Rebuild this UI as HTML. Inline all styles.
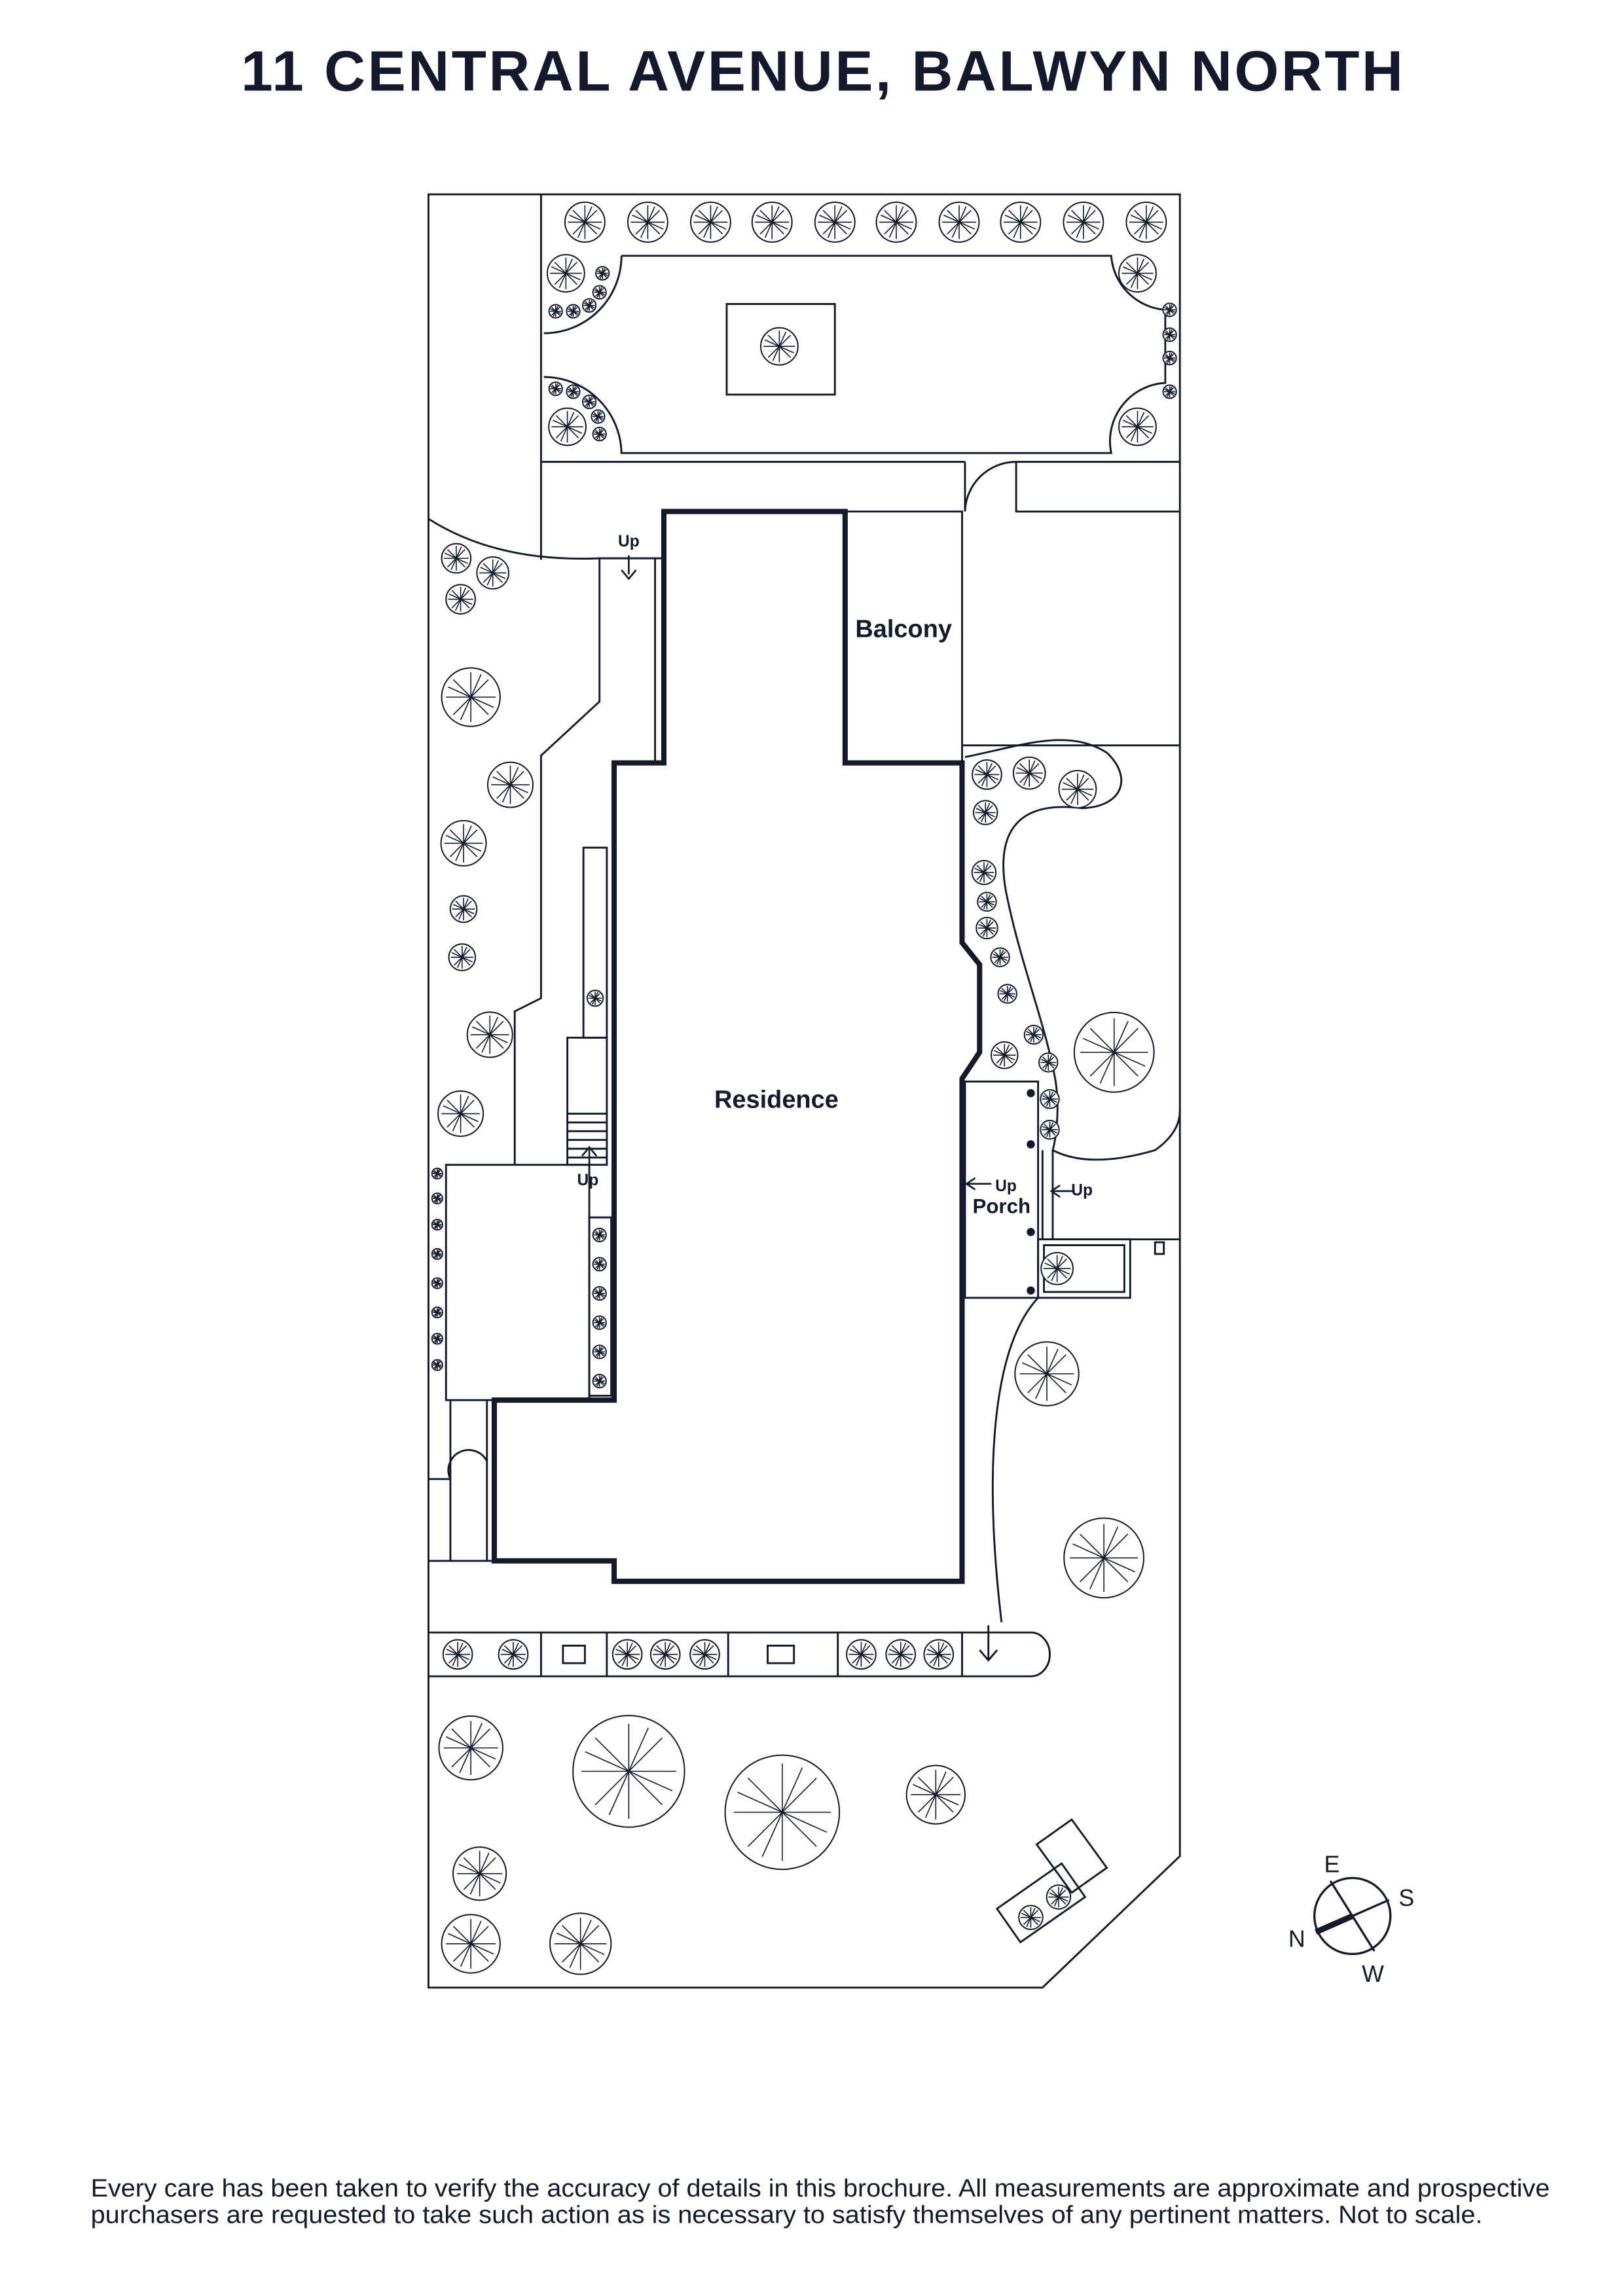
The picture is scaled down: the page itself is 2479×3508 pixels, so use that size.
<!DOCTYPE html>
<html><head><meta charset="utf-8"><style>
html,body{margin:0;padding:0;background:#fff;width:2479px;height:3508px;overflow:hidden}
svg{display:block}
text{font-family:"Liberation Sans",sans-serif;fill:#141a2b}
</style></head><body>
<svg width="2479" height="3508" viewBox="0 0 1110 1571" xmlns="http://www.w3.org/2000/svg">
<defs>
<symbol id="t" viewBox="-1.1 -1.1 2.2 2.2">
<circle r="1" fill="#fff" stroke="#141a2b" stroke-width="2" vector-effect="non-scaling-stroke"/>
<g stroke="#141a2b" stroke-width="1.6" vector-effect="non-scaling-stroke">
<line x1="0" y1="0" x2="0" y2="-0.85" vector-effect="non-scaling-stroke"/><line x1="0" y1="0" x2="0.6" y2="-0.6" vector-effect="non-scaling-stroke"/><line x1="0" y1="0" x2="0.85" y2="0" vector-effect="non-scaling-stroke"/>
<line x1="0" y1="0" x2="0.6" y2="0.6" vector-effect="non-scaling-stroke"/><line x1="0" y1="0" x2="0" y2="0.85" vector-effect="non-scaling-stroke"/><line x1="0" y1="0" x2="-0.6" y2="0.6" vector-effect="non-scaling-stroke"/>
<line x1="0" y1="0" x2="-0.85" y2="0" vector-effect="non-scaling-stroke"/><line x1="0" y1="0" x2="-0.6" y2="-0.6" vector-effect="non-scaling-stroke"/>
<line x1="0" y1="0" x2="0.35" y2="-0.78" vector-effect="non-scaling-stroke"/><line x1="0" y1="0" x2="-0.35" y2="0.78" vector-effect="non-scaling-stroke"/><line x1="0" y1="0" x2="0.78" y2="0.35" vector-effect="non-scaling-stroke"/><line x1="0" y1="0" x2="-0.78" y2="-0.35" vector-effect="non-scaling-stroke"/>
</g></symbol>
</defs>
<text x="563" y="62" text-anchor="middle" font-size="39" font-weight="bold" letter-spacing="1.6">11 CENTRAL AVENUE, BALWYN NORTH</text>

<g fill="none" stroke="#141a2b" stroke-width="1.3">
<path d="M293,133 H807 V1270 L713,1360 H293 Z"/>
<path d="M370,133 V383"/>
<path d="M370,316 H660 M695,316 H807 M660,316 V350 M695,316 V350 H807"/>
<path d="M660,350 A35,35 0 0 1 695,316"/>
<path d="M425,175 H760 A40,40 0 0 0 797,212 V262 A40,40 0 0 0 760,310 H425 A53,53 0 0 0 372,258 M372,228 A53,53 0 0 0 425,175"/>
<rect x="497" y="208" width="74" height="62"/>
<rect x="578" y="350" width="80" height="172"/>
<path d="M658,510 H807"/>
<path d="M293,355 Q340,385 410,382 H454"/>
<path d="M410,382 V480 L370,517 V683 L352,692 V797"/>
<path d="M448,382 V522"/>
<rect x="399" y="580" width="16" height="130"/>
<rect x="388" y="710" width="27" height="87"/>
<path d="M388,762 H415 M388,768 H415 M388,774 H415 M388,780 H415 M388,786 H415 M388,792 H415"/>
<rect x="305" y="797" width="98" height="161"/>
<rect x="403" y="833" width="15" height="122"/>
<path d="M308,958 V1068 M333,958 V1068 M293,1012 H308 M308,1012 A12,12 0 0 1 333,1000"/>
<path d="M293,1068 H338"/>
<path d="M293,1117 H705 M293,1147 H705 M370,1117 V1147 M415,1117 V1147 M498,1117 V1147 M573,1117 V1147 M658,1117 V1147 M705,1117 A13,15 0 0 1 705,1147"/>
<rect x="385" y="1126" width="15" height="12"/><rect x="525" y="1126" width="18" height="12"/>
<path d="M676,1112 V1135 M670,1129 L676,1136 L682,1129"/>
<path d="M660,518 C700,510 730,498 757,515 C775,532 768,552 740,553 C700,548 680,565 688,610 C698,660 715,700 722,740 C725,760 722,780 720,787 Q745,800 790,787 Q807,775 807,760"/>
<rect x="660" y="740" width="50" height="148"/>
<path d="M713,787 V848 M720,787 V848 M710,848 H807"/>
<rect x="710" y="848" width="63" height="40"/><rect x="714" y="852" width="55" height="32"/>
<rect x="790" y="850" width="6" height="8"/>
<path d="M710,888 C680,920 672,1000 685,1110"/>
<path d="M709,1262 L733,1245 L757,1278 L733,1295 Z"/>
<g transform="translate(712,1302) rotate(-35)"><rect x="-27" y="-14" width="54" height="28"/></g>
</g>
<path d="M454,350 H578 V522 H658 V645 L670,660 V720 L658,738 V1082 H420 V1068 H338 V958 H420 V522 H454 Z" fill="none" stroke="#141a2b" stroke-width="3.6"/>
<g fill="#141a2b">
<path d="M430,380 V393 M425,390 L430,396 L435,390" stroke="#141a2b" stroke-width="1.2" fill="none"/>
<path d="M403,800 V786 M398,791 L403,785 L408,791" stroke="#141a2b" stroke-width="1.2" fill="none"/>
<path d="M678,810 H662 M667,806 L661,810 L667,814" stroke="#141a2b" stroke-width="1.2" fill="none"/>
<path d="M735,815 H720 M725,811 L719,815 L725,819" stroke="#141a2b" stroke-width="1.2" fill="none"/>
<circle cx="705" cy="748" r="2.8"/><circle cx="705" cy="783" r="2.8"/><circle cx="705" cy="843" r="2.8"/><circle cx="705" cy="883" r="2.8"/>
</g>
<text x="430" y="374" font-size="11" font-weight="bold" text-anchor="middle">Up</text>
<text x="402" y="811" font-size="11" font-weight="bold" text-anchor="middle">Up</text>
<text x="688" y="815" font-size="11" font-weight="bold" text-anchor="middle">Up</text>
<text x="740" y="818" font-size="11" font-weight="bold" text-anchor="middle">Up</text>
<text x="685" y="830" font-size="14" font-weight="bold" text-anchor="middle">Porch</text>
<text x="618" y="436" font-size="17" font-weight="bold" text-anchor="middle">Balcony</text>
<text x="531" y="758" font-size="17" font-weight="bold" text-anchor="middle">Residence</text>

<g>
<use href="#t" x="385" y="137" width="30" height="30"/><use href="#t" x="428" y="137" width="30" height="30"/><use href="#t" x="471" y="137" width="30" height="30"/><use href="#t" x="513" y="137" width="30" height="30"/><use href="#t" x="556" y="137" width="30" height="30"/><use href="#t" x="598" y="137" width="30" height="30"/><use href="#t" x="641" y="137" width="30" height="30"/><use href="#t" x="683" y="137" width="30" height="30"/><use href="#t" x="726" y="137" width="30" height="30"/><use href="#t" x="769" y="137" width="30" height="30"/>
<use href="#t" x="373" y="173" width="28" height="28"/><use href="#t" x="374" y="278" width="28" height="28"/>
<use href="#t" x="764" y="173" width="28" height="28"/><use href="#t" x="764" y="278" width="28" height="28"/>
<use href="#t" x="519" y="223" width="28" height="28"/>
<use href="#t" x="407" y="182" width="10" height="10"/><use href="#t" x="405" y="195" width="10" height="10"/><use href="#t" x="398" y="204" width="10" height="10"/><use href="#t" x="387" y="208" width="10" height="10"/><use href="#t" x="375" y="208" width="10" height="10"/>
<use href="#t" x="375" y="261" width="10" height="10"/><use href="#t" x="387" y="263" width="10" height="10"/><use href="#t" x="398" y="270" width="10" height="10"/><use href="#t" x="404" y="280" width="10" height="10"/><use href="#t" x="405" y="292" width="10" height="10"/>
<use href="#t" x="795" y="207" width="10" height="10"/><use href="#t" x="795" y="224" width="10" height="10"/><use href="#t" x="795" y="240" width="10" height="10"/><use href="#t" x="795" y="263" width="10" height="10"/>
<use href="#t" x="301" y="371" width="22" height="22"/><use href="#t" x="325" y="380" width="24" height="24"/><use href="#t" x="304" y="399" width="22" height="22"/>
<use href="#t" x="300" y="455" width="44" height="44"/><use href="#t" x="332" y="520" width="34" height="34"/><use href="#t" x="300" y="560" width="34" height="34"/>
<use href="#t" x="307" y="612" width="20" height="20"/><use href="#t" x="306" y="645" width="20" height="20"/><use href="#t" x="318" y="691" width="34" height="34"/><use href="#t" x="298" y="745" width="34" height="34"/>
<use href="#t" x="401" y="677" width="12" height="12"/>
<use href="#t" x="295" y="799" width="8" height="8"/><use href="#t" x="295" y="816" width="8" height="8"/><use href="#t" x="295" y="834" width="8" height="8"/><use href="#t" x="295" y="854" width="8" height="8"/><use href="#t" x="295" y="874" width="8" height="8"/><use href="#t" x="295" y="894" width="8" height="8"/><use href="#t" x="295" y="912" width="8" height="8"/><use href="#t" x="295" y="930" width="8" height="8"/>
<use href="#t" x="405" y="840" width="10" height="10"/><use href="#t" x="405" y="860" width="10" height="10"/><use href="#t" x="405" y="880" width="10" height="10"/><use href="#t" x="405" y="900" width="10" height="10"/><use href="#t" x="405" y="920" width="10" height="10"/><use href="#t" x="405" y="940" width="10" height="10"/>
<use href="#t" x="664" y="519" width="22" height="22"/><use href="#t" x="692" y="517" width="24" height="24"/><use href="#t" x="723" y="526" width="28" height="28"/>
<use href="#t" x="665" y="547" width="18" height="18"/><use href="#t" x="664" y="588" width="18" height="18"/><use href="#t" x="668" y="610" width="14" height="14"/><use href="#t" x="667" y="627" width="16" height="16"/>
<use href="#t" x="677" y="648" width="14" height="14"/><use href="#t" x="682" y="673" width="14" height="14"/><use href="#t" x="700" y="701" width="14" height="14"/><use href="#t" x="677" y="712" width="20" height="20"/>
<use href="#t" x="710" y="720" width="14" height="14"/><use href="#t" x="711" y="745" width="14" height="14"/><use href="#t" x="711" y="766" width="14" height="14"/><use href="#t" x="711" y="856" width="24" height="24"/>
<use href="#t" x="732" y="690" width="60" height="60"/><use href="#t" x="692" y="916" width="48" height="48"/><use href="#t" x="725" y="1036" width="60" height="60"/>
<use href="#t" x="302" y="1121" width="22" height="22"/><use href="#t" x="340" y="1121" width="22" height="22"/><use href="#t" x="418" y="1121" width="22" height="22"/><use href="#t" x="444" y="1121" width="22" height="22"/><use href="#t" x="471" y="1121" width="22" height="22"/><use href="#t" x="578" y="1121" width="22" height="22"/><use href="#t" x="605" y="1121" width="22" height="22"/><use href="#t" x="631" y="1121" width="22" height="22"/>
<use href="#t" x="298" y="1172" width="48" height="48"/><use href="#t" x="388" y="1170" width="84" height="84"/><use href="#t" x="492" y="1197" width="86" height="86"/><use href="#t" x="618" y="1206" width="44" height="44"/>
<use href="#t" x="308" y="1262" width="40" height="40"/><use href="#t" x="300" y="1308" width="44" height="44"/><use href="#t" x="374" y="1307" width="46" height="46"/>
<use href="#t" x="696" y="1303" width="18" height="18"/><use href="#t" x="715" y="1289" width="18" height="18"/>
</g>

<circle cx="925" cy="1311" r="26" fill="none" stroke="#141a2b" stroke-width="1.5"/>
<line x1="910" y1="1287" x2="940" y2="1335" stroke="#141a2b" stroke-width="1.5"/>
<line x1="950" y1="1300" x2="925" y2="1311" stroke="#141a2b" stroke-width="1.5"/>
<line x1="925" y1="1311" x2="900" y2="1322" stroke="#141a2b" stroke-width="4"/>
<text x="911" y="1281" font-size="16" text-anchor="middle">E</text>
<text x="962" y="1304" font-size="16" text-anchor="middle">S</text>
<text x="887" y="1332" font-size="16" text-anchor="middle">N</text>
<text x="939" y="1356" font-size="16" text-anchor="middle">W</text>

<text x="62" y="1503" font-size="17" textLength="998" lengthAdjust="spacingAndGlyphs">Every care has been taken to verify the accuracy of details in this brochure. All measurements are approximate and prospective</text>
<text x="62" y="1521" font-size="17" textLength="952" lengthAdjust="spacingAndGlyphs">purchasers are requested to take such action as is necessary to satisfy themselves of any pertinent matters. Not to scale.</text>
</svg>
</body></html>
